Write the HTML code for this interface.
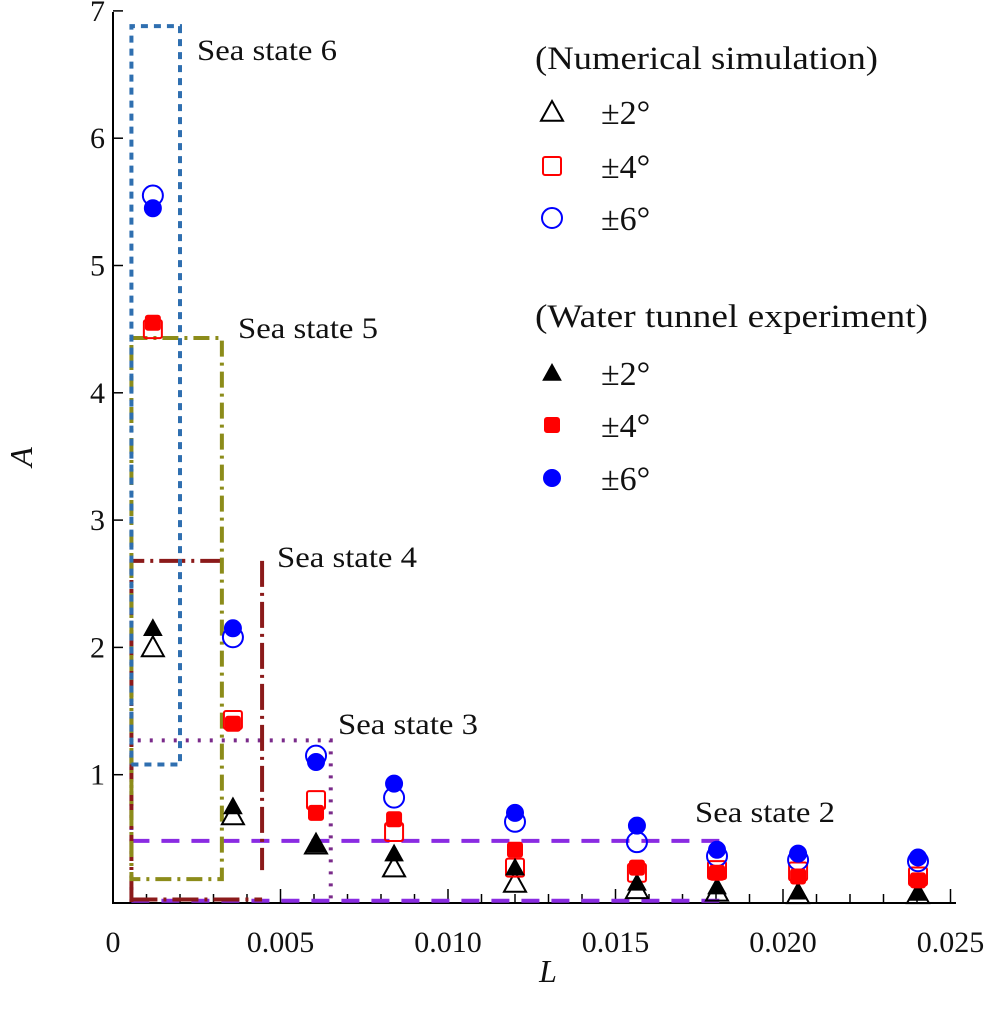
<!DOCTYPE html>
<html><head><meta charset="utf-8"><style>
html,body{margin:0;padding:0;background:#fff}
svg text{font-family:"Liberation Serif",serif;fill:#111}
</style></head><body>
<svg id="chart" width="987" height="1009" viewBox="0 0 987 1009" xmlns="http://www.w3.org/2000/svg">
<g id="axes"></g>
<g id="boxes"></g>
<g id="marks"></g>
<g id="legend"></g>
</svg>
<script>
const xs = [0.00119, 0.00358, 0.00606, 0.00839, 0.0120, 0.01564, 0.01803, 0.02045, 0.02403];
const numTri = [2.0, 0.68, 0.45, 0.27, 0.15, 0.10, 0.08, 0.06, 0.06];
const numSq = [4.5, 1.43, 0.80, 0.55, 0.27, 0.23, 0.25, 0.24, 0.20];
const numCirc = [5.55, 2.08, 1.15, 0.82, 0.63, 0.47, 0.36, 0.33, 0.32];
const expTri = [2.15, 0.75, 0.45, 0.38, 0.27, 0.15, 0.12, 0.08, 0.07];
const expSq = [4.55, 1.40, 0.70, 0.65, 0.41, 0.27, 0.23, 0.20, 0.17];
const expCirc = [5.45, 2.15, 1.10, 0.93, 0.70, 0.60, 0.41, 0.38, 0.35];
const xTicks = [0, 0.005, 0.010, 0.015, 0.020, 0.025];
const xTickLabels = ["0", "0.005", "0.010", "0.015", "0.020", "0.025"];
const yTicks = [1, 2, 3, 4, 5, 6, 7];

const NS = "http://www.w3.org/2000/svg";
const X = v => 113 + v / 0.025 * 837.5;
const Y = v => 902 - v * 127.3;
function mk(parent, tag, attrs, text){
  const e = document.createElementNS(NS, tag);
  for (const k in attrs) e.setAttribute(k, attrs[k]);
  if (text !== undefined) e.textContent = text;
  parent.appendChild(e); return e;
}
const axes = document.getElementById('axes');
let e;
e = mk(axes,'line',{x1:113,y1:12,x2:113,y2:903,stroke:'#000','stroke-width':2});
 
e = mk(axes,'line',{x1:112,y1:903,x2:956,y2:903,stroke:'#000','stroke-width':2});
 
for (let i = 0; i <= 25; i++) {
  const v = i * 0.001, maj = i % 5 === 0;
  e = mk(axes,'line',{x1:X(v),y1:903,x2:X(v),y2:maj?889:894,stroke:'#000','stroke-width':1.5});
   
}
xTicks.forEach((v,i)=>{
  e = mk(axes,'text',{x:X(v),y:952,'font-size':30,'text-anchor':'middle'},xTickLabels[i]);
   
});
yTicks.forEach(v=>{
  e = mk(axes,'line',{x1:113,y1:Y(v),x2:123,y2:Y(v),stroke:'#000','stroke-width':1.5});
   
  e = mk(axes,'text',{x:105,y:Y(v)+10,'font-size':30,'text-anchor':'end'},String(v));
   
});
e = mk(axes,'text',{x:548,y:982,'font-size':32,'font-style':'italic','text-anchor':'middle'},'L');
 
e = mk(axes,'text',{x:32,y:457,'font-size':32,'font-style':'italic','text-anchor':'middle',transform:'rotate(-90 32 457)'},'A');
 

const boxes = document.getElementById('boxes');
function pl(pts, color, dash, name){
  const p = mk(boxes,'polyline',{points:pts.map(q=>q.join(',')).join(' '),fill:'none',stroke:color,'stroke-width':4,'stroke-dasharray':dash});
   
}
const L0 = X(0.00055);
pl([[L0,Y(0)],[L0,Y(1.27)],[X(0.0065),Y(1.27)],[X(0.0065),Y(0)]],'#7a2a8a','3 9','sea-state-3-box');
pl([[L0,Y(0.48)],[X(0.0181),Y(0.48)]],'#8a2be2','18 12','sea-state-2-line');
pl([[L0,Y(0.01)],[X(0.0181),Y(0.01)]],'#8a2be2','18 12','sea-state-2-bottom');
pl([[L0,Y(0)],[L0,Y(2.68)],[X(0.0033),Y(2.68)]],'#8b1a1a','26 6 3 6','sea-state-4-box');
pl([[X(0.00445),Y(2.68)],[X(0.00445),Y(0.25)]],'#8b1a1a','26 6 3 6','sea-state-4-right');
pl([[L0,Y(0.02)],[X(0.00445),Y(0.02)]],'#8b1a1a','26 6 3 6','sea-state-4-bottom');
pl([[L0,Y(4.43)],[X(0.00325),Y(4.43)],[X(0.00325),Y(0.18)],[L0,Y(0.18)],[L0,Y(4.43)]],'#8c8c1a','16 6 3 6','sea-state-5-box');
pl([[L0,Y(1.08)],[X(0.002),Y(1.08)],[X(0.002),Y(6.88)],[L0,Y(6.88)],[L0,Y(1.08)]],'#2f6fb0','7 6','sea-state-6-box');
[['Sea state 6',197,60],['Sea state 5',238,338],['Sea state 4',277,567],['Sea state 3',338,734],['Sea state 2',695,822]].forEach(t=>{
  e = mk(boxes,'text',{x:t[1],y:t[2],'font-size':30,textLength:140,lengthAdjust:'spacingAndGlyphs'},t[0]);
   
});

const marks = document.getElementById('marks');
function marker(g, kind, filled, cx, cy){
  let m;
  if (kind==='tri'){
    const s = filled?9:11;
    m = mk(g,'polygon',{points:`${cx},${cy-s} ${cx+s},${cy+s*0.8} ${cx-s},${cy+s*0.8}`,fill:filled?'#000':'none',stroke:'#000','stroke-width':filled?1:2});
  } else if (kind==='sq'){
    const s = filled?7:9;
    m = mk(g,'rect',{x:cx-s,y:cy-s,width:2*s,height:2*s,rx:2,fill:filled?'#f00':'none',stroke:'#f00','stroke-width':2});
  } else {
    m = mk(g,'circle',{cx:cx,cy:cy,r:filled?8:10,fill:filled?'#00f':'none',stroke:'#00f','stroke-width':2});
  }
  return m;
}
const series = [[numTri,'tri',false,'num-2deg'],[numSq,'sq',false,'num-4deg'],[numCirc,'circ',false,'num-6deg'],
                [expTri,'tri',true,'exp-2deg'],[expSq,'sq',true,'exp-4deg'],[expCirc,'circ',true,'exp-6deg']];
series.forEach(s=>{
  s[0].forEach((v,i)=>{
    const m = marker(marks,s[1],s[2],X(xs[i]),Y(v));
    
    
  });
});

const lg = document.getElementById('legend');
e = mk(lg,'text',{x:535,y:69,'font-size':33,textLength:343,lengthAdjust:'spacingAndGlyphs'},'(Numerical simulation)');
 
e = mk(lg,'text',{x:535,y:327,'font-size':33,textLength:393,lengthAdjust:'spacingAndGlyphs'},'(Water tunnel experiment)');
 
const legY = [112,166,218,373,425,478];
const legLab = ['±2°','±4°','±6°','±2°','±4°','±6°'];
series.forEach((s,i)=>{
  const m = marker(lg,s[1],s[2],552,legY[i]);
  
  
  e = mk(lg,'text',{x:601,y:legY[i]+12,'font-size':34},legLab[i]);
   
});
</script>
</body></html>
